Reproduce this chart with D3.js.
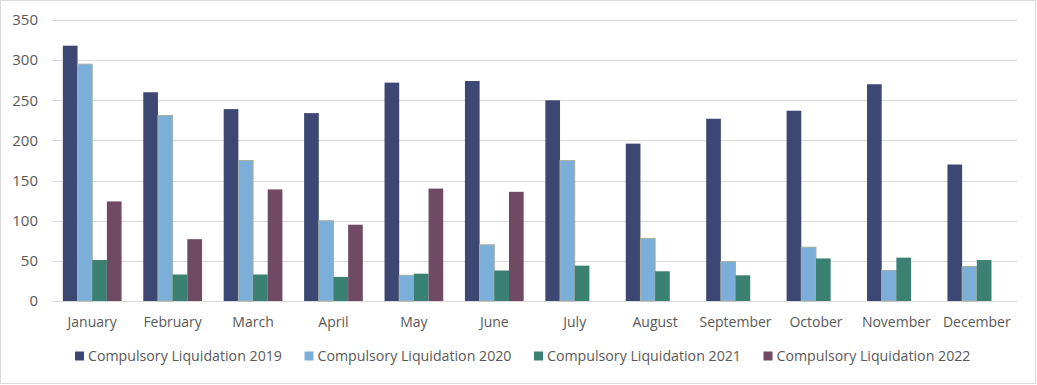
<!DOCTYPE html>
<html>
<head>
<meta charset="utf-8">
<script src="https://cdn.jsdelivr.net/npm/d3@7"></script>
<style>
  body { margin: 0; background: #fff; }
  text { font-family: "Open Sans", sans-serif; fill: #595959; }
</style>
</head>
<body>
<svg id="chart"></svg>
<script>
// Data
const months = ["January", "February", "March", "April", "May", "June",
  "July", "August", "September", "October", "November", "December"];
const seriesNames = ["Compulsory Liquidation 2019", "Compulsory Liquidation 2020",
  "Compulsory Liquidation 2021", "Compulsory Liquidation 2022"];
const liq2019 = [318, 260, 239, 234, 272, 274, 250, 196, 227, 237, 270, 170];
const liq2020 = [295, 231, 175, 100, 32, 70, 175, 78, 49, 67, 38, 43];
const liq2021 = [51, 33, 33, 30, 34, 38, 44, 37, 32, 53, 54, 51];
const liq2022 = [124, 77, 139, 95, 140, 136, null, null, null, null, null, null];
const yTicks = [0, 50, 100, 150, 200, 250, 300, 350];

const colors = ["#3d4774", "#7bafd9", "#3b8171", "#6f4a62"];
const strokes = ["none", "#a3b0a0", "none", "none"];
const allSeries = [liq2019, liq2020, liq2021, liq2022];

const width = 1037, height = 385;
const margin = { top: 20, right: 20, bottom: 84, left: 52 };

const svg = d3.select("#chart").attr("width", width).attr("height", height);

// cadre gris autour du graphique
svg.append("rect")
  .attr("x", 0.5).attr("y", 0.5)
  .attr("width", width - 2).attr("height", height - 2)
  .attr("fill", "#fff").attr("stroke", "#d9d9d9");

const x = d3.scaleBand()
  .domain(months)
  .range([margin.left, width - margin.right])
  .paddingInner(0.27)
  .paddingOuter(0.135);

const xInner = d3.scaleBand()
  .domain(d3.range(seriesNames.length))
  .range([0, x.bandwidth()]);

const y = d3.scaleLinear()
  .domain([0, 350])
  .range([height - margin.bottom, margin.top]);

// Grille
svg.append("g")
  .selectAll("line")
  .data(yTicks)
  .join("line")
  .attr("x1", margin.left)
  .attr("x2", width - margin.right)
  .attr("y1", d => Math.round(y(d)) + 0.5)
  .attr("y2", d => Math.round(y(d)) + 0.5)
  .attr("stroke", "#d9d9d9");

// Axe Y (labels seulement)
svg.append("g")
  .selectAll("text")
  .data(yTicks)
  .join("text")
  .attr("x", 38)
  .attr("y", d => y(d))
  .attr("dy", "0.35em")
  .attr("text-anchor", "end")
  .attr("font-size", "15px")
  .text(d => d);

// Barres
const groups = svg.append("g")
  .selectAll("g")
  .data(months)
  .join("g")
  .attr("transform", d => `translate(${x(d)},0)`);

groups.selectAll("rect")
  .data((m, i) => allSeries.map((s, k) => ({ k, v: s[i] })).filter(d => d.v != null))
  .join("rect")
  .attr("x", d => xInner(d.k))
  .attr("width", xInner.bandwidth())
  .attr("y", d => y(d.v))
  .attr("height", d => y(0) - y(d.v))
  .attr("fill", d => colors[d.k])
  .attr("stroke", d => strokes[d.k])
  .attr("stroke-width", 1);

// Axe X (labels)
svg.append("g")
  .selectAll("text")
  .data(months)
  .join("text")
  .attr("x", d => x(d) + x.bandwidth() / 2)
  .attr("y", 327)
  .attr("text-anchor", "middle")
  .attr("font-size", "14px")
  .text(d => d);

// Légende
const legend = svg.append("g")
  .selectAll("g")
  .data(seriesNames)
  .join("g")
  .attr("transform", (d, i) => `translate(${75 + i * 229.5},356)`);

legend.append("rect")
  .attr("x", 0).attr("y", -4.5)
  .attr("width", 9).attr("height", 9)
  .attr("fill", (d, i) => colors[i]);

legend.append("text")
  .attr("x", 13)
  .attr("y", 0)
  .attr("dy", "0.35em")
  .attr("font-size", "14.2px")
  .text(d => d);
</script>
</body>
</html>
